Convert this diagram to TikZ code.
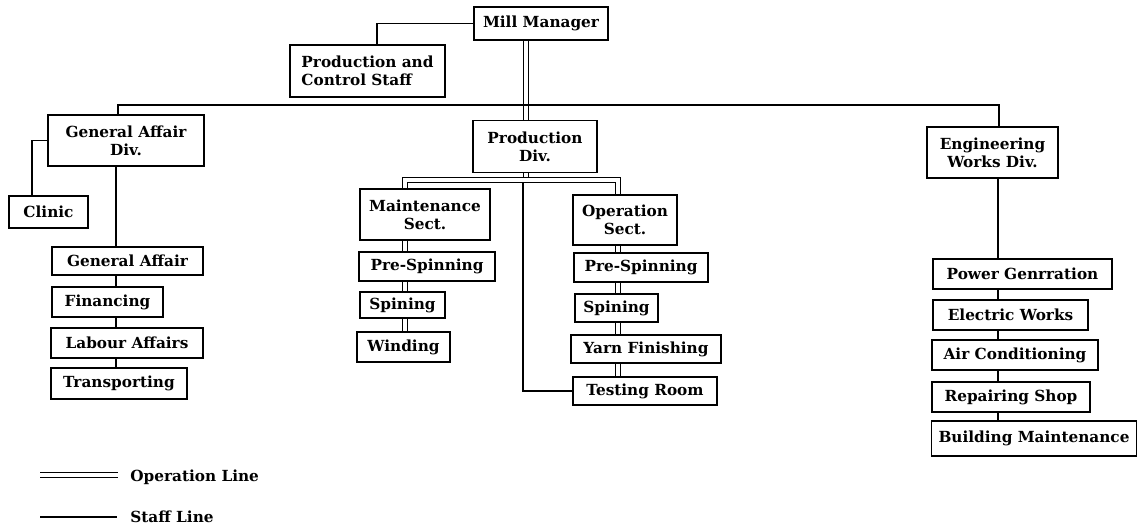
\documentclass[tikz,border=0pt]{standalone}
\usepackage{fontspec}
\setmainfont{DejaVu Serif}
\usepackage{tikz}

\tikzset{
  box/.style = {draw, line width=0.9pt, inner sep=0pt, align=center,
                font=\fontsize{8.7}{10.4}\selectfont\bfseries},
  opline/.style = {draw, double, double distance=0.065cm, line width=0.75pt},
  staffline/.style = {draw, line width=0.8pt},
  legtext/.style = {anchor=west, inner sep=0pt, font=\fontsize{8.7}{10.4}\selectfont\bfseries}
}

\begin{document}
\begin{tikzpicture}[x=0.02cm, y=-0.02cm]
\useasboundingbox (0,0) rectangle (1140,531);

% top
\node [box, minimum width=2.68cm, minimum height=0.66cm] (mill) at (541,23.5) {Mill Manager};
\node [box, minimum width=3.1cm, minimum height=1.04cm, align=left] (pcs) at (367.5,71) {Production and\\Control Staff};

% divisions
\node [box, minimum width=3.12cm, minimum height=1.02cm] (gad) at (126,140.5) {General Affair\\Div.};
\node [box, minimum width=2.48cm, minimum height=1.04cm] (prod) at (535,146.5) {Production\\Div.};
\node [box, minimum width=2.62cm, minimum height=1.02cm] (eng) at (992.5,152.5) {Engineering\\Works Div.};

% general affair
\node [box, minimum width=1.58cm, minimum height=0.64cm] (clinic) at (48.5,212) {Clinic};
\node [box, minimum width=3.02cm, minimum height=0.56cm] (ga) at (127.5,261) {General Affair};
\node [box, minimum width=2.22cm, minimum height=0.6cm] (fin) at (107.5,302) {Financing};
\node [box, minimum width=3.04cm, minimum height=0.6cm] (lab) at (127,343) {Labour Affairs};
\node [box, minimum width=2.72cm, minimum height=0.62cm] (trans) at (119,383.5) {Transporting};

% production
\node [box, minimum width=2.6cm, minimum height=1.02cm] (maint) at (425,214.5) {Maintenance\\Sect.};
\node [box, minimum width=2.72cm, minimum height=0.58cm] (mpre) at (427,266.5) {Pre-Spinning};
\node [box, minimum width=1.7cm, minimum height=0.52cm] (mspin) at (402.5,305) {Spining};
\node [box, minimum width=1.86cm, minimum height=0.6cm] (mwind) at (403.5,347) {Winding};
\node [box, minimum width=2.08cm, minimum height=1.0cm] (oper) at (625,220) {Operation\\Sect.};
\node [box, minimum width=2.68cm, minimum height=0.58cm] (opre) at (641,267.5) {Pre-Spinning};
\node [box, minimum width=1.66cm, minimum height=0.56cm] (ospin) at (616.5,308) {Spining};
\node [box, minimum width=3.0cm, minimum height=0.56cm] (yarn) at (646,349) {Yarn Finishing};
\node [box, minimum width=2.88cm, minimum height=0.56cm] (test) at (645,391) {Testing Room};

% engineering
\node [box, minimum width=3.58cm, minimum height=0.6cm] (power) at (1022.5,274) {Power Genrration};
\node [box, minimum width=3.1cm, minimum height=0.6cm] (elec) at (1010.5,315) {Electric Works};
\node [box, minimum width=3.32cm, minimum height=0.6cm] (air) at (1015,355) {Air Conditioning};
\node [box, minimum width=3.16cm, minimum height=0.6cm] (rep) at (1011,397) {Repairing Shop};
\node [box, minimum width=4.1cm, minimum height=0.7cm] (bld) at (1034,438.5) {Building Maintenance};

% line positions
\coordinate (mx) at (526,0);
\coordinate (px) at (377,0);
\coordinate (busL) at (118,105);
\coordinate (busR) at (999,105);
\coordinate (cx) at (32,0);
\coordinate (gx) at (116,0);
\coordinate (bus) at (526,180);
\coordinate (sx) at (405,0);
\coordinate (ox) at (618,0);
\coordinate (tx) at (523,0);
\coordinate (ex) at (998,0);

% operation lines
\draw [opline] (mill.south -| mx) -- (prod.north -| mx);
\draw [opline] (prod.south -| mx) -- (bus);
\draw [opline] (maint.north -| sx) -- (bus -| sx) -- (bus -| ox) -- (oper.north -| ox);
\draw [opline] (maint.south -| sx) -- (mpre.north -| sx);
\draw [opline] (mpre.south -| sx) -- (mspin.north -| sx);
\draw [opline] (mspin.south -| sx) -- (mwind.north -| sx);
\draw [opline] (oper.south -| ox) -- (opre.north -| ox);
\draw [opline] (opre.south -| ox) -- (ospin.north -| ox);
\draw [opline] (ospin.south -| ox) -- (yarn.north -| ox);
\draw [opline] (yarn.south -| ox) -- (test.north -| ox);

% staff lines
\draw [staffline] (mill.west) -| (pcs.north -| px);
\draw [staffline] (gad.north -| busL) -- (busL) -- (busR) -- (eng.north -| busR);
\draw [staffline] (gad.west) -| (clinic.north -| cx);
\draw [staffline] (gad.south -| gx) -- (ga.north -| gx);
\draw [staffline] (ga.south -| gx) -- (fin.north -| gx);
\draw [staffline] (fin.south -| gx) -- (lab.north -| gx);
\draw [staffline] (lab.south -| gx) -- (trans.north -| gx);
\draw [staffline] (bus -| tx) ++(0,3) -- (test.west -| tx) -- (test.west);
\draw [staffline] (eng.south -| ex) -- (power.north -| ex);
\draw [staffline] (power.south -| ex) -- (elec.north -| ex);
\draw [staffline] (elec.south -| ex) -- (air.north -| ex);
\draw [staffline] (air.south -| ex) -- (rep.north -| ex);
\draw [staffline] (rep.south -| ex) -- (bld.north -| ex);

% legend
\coordinate (op) at (40,475);
\coordinate (st) at (40,517);
\node [legtext] (opl) at (130,477) {Operation Line};
\node [legtext] (stl) at (130,517) {Staff Line};
\draw [opline] (op) -- (op -| opl.west) [shorten >=0.24cm];
\draw [staffline, shorten >=0.26cm] (st) -- (stl.west);
\end{tikzpicture}
\end{document}
